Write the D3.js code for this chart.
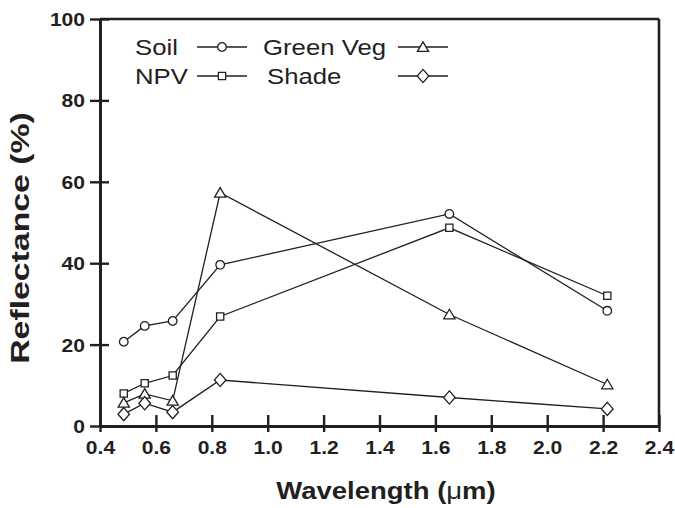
<!DOCTYPE html>
<html>
<head>
<meta charset="utf-8">
<script src="https://cdn.jsdelivr.net/npm/d3@7"></script>
<style>
  body { margin: 0; background: #fff; }
  text { font-family: "Liberation Sans", Arial, Helvetica, sans-serif; fill: #231f20; }
</style>
</head>
<body>
<svg id="chart" width="675" height="508"></svg>
<script>
// Band-centre wavelengths (µm) and reflectance (%) of the four endmembers
const wavelengths = [0.485, 0.56, 0.66, 0.83, 1.65, 2.215];
const soil     = [20.7, 24.6, 25.8, 39.6, 52.1, 28.3];
const npv      = [8.0, 10.5, 12.4, 26.9, 48.7, 32.0];
const greenVeg = [5.7, 7.9, 6.2, 57.3, 27.4, 10.2];
const shade    = [2.9, 5.6, 3.4, 11.3, 7.0, 4.2];

const xTicks = [0.4, 0.6, 0.8, 1.0, 1.2, 1.4, 1.6, 1.8, 2.0, 2.2, 2.4];
const yTicks = [0, 20, 40, 60, 80, 100];

const ink = "#231f20";
const SX = 1.17; // horizontal stretch applied to the lettering

const svg = d3.select("#chart");
const plotLeft = 100, plotRight = 659, plotTop = 19, plotBottom = 426;

const x = d3.scaleLinear().domain([0.4, 2.4]).range([plotLeft, plotRight]);
const y = d3.scaleLinear().domain([0, 100]).range([plotBottom, plotTop]);

// frame (top and right edges)
svg.append("line").attr("x1", plotLeft).attr("x2", plotRight).attr("y1", plotTop).attr("y2", plotTop)
  .attr("stroke", ink).attr("stroke-width", 2.6);
svg.append("line").attr("x1", plotRight).attr("x2", plotRight).attr("y1", plotTop).attr("y2", plotBottom)
  .attr("stroke", ink).attr("stroke-width", 2.6);

// x axis
const gx = svg.append("g").attr("transform", `translate(0,${plotBottom})`)
  .call(d3.axisBottom(x).tickValues(xTicks).tickFormat(d3.format(".1f")).tickSizeOuter(0));
gx.select(".domain").attr("stroke", ink).attr("stroke-width", 3);
gx.selectAll(".tick line").attr("stroke", ink).attr("stroke-width", 2.4).attr("y1", -11).attr("y2", 6);
gx.selectAll(".tick text")
  .attr("y", 0).attr("dy", 0)
  .attr("transform", `translate(0,28) scale(${SX},1)`)
  .style("font-size", "18px").style("font-weight", "bold").attr("fill", ink);

// y axis
const gy = svg.append("g").attr("transform", `translate(${plotLeft},0)`)
  .call(d3.axisLeft(y).tickValues(yTicks).tickFormat(d3.format("d")).tickSizeOuter(0));
gy.select(".domain").attr("stroke", ink).attr("stroke-width", 3);
gy.selectAll(".tick line").attr("stroke", ink).attr("stroke-width", 2.4).attr("x1", -10).attr("x2", 9);
gy.selectAll(".tick text")
  .attr("x", 0).attr("dy", 0)
  .attr("transform", `translate(-15,6.5) scale(${SX},1)`)
  .style("font-size", "18px").style("font-weight", "bold").attr("fill", ink);
gy.selectAll(".tick text").attr("text-anchor", "end");

// axis titles
const xt = svg.append("text")
  .attr("transform", `translate(386,499) scale(${SX},1)`)
  .attr("text-anchor", "middle")
  .style("font-size", "23.5px").style("font-weight", "bold");
xt.append("tspan").text("Wavelength (");
xt.append("tspan").style("font-weight", "normal").text("μ");
xt.append("tspan").text("m)");

svg.append("text")
  .attr("transform", "translate(29,238) rotate(-90) scale(1.3,1)")
  .attr("text-anchor", "middle")
  .style("font-size", "26px").style("font-weight", "bold")
  .text("Reflectance (%)");

// marker shapes
const shapes = {
  circle: () => d3.symbol().type(d3.symbolCircle).size(58)(),
  square: () => d3.symbol().type(d3.symbolSquare).size(52)(),
  triangle: () => "M0,-5.2L5.6,4.3L-5.6,4.3Z",
  diamond: () => "M0,-6.6L5.8,0L0,6.6L-5.8,0Z"
};

const series = [
  { name: "Soil", values: soil, shape: "circle" },
  { name: "NPV", values: npv, shape: "square" },
  { name: "Green Veg", values: greenVeg, shape: "triangle" },
  { name: "Shade", values: shade, shape: "diamond" }
];

const line = d3.line().x((d, i) => x(wavelengths[i])).y(d => y(d));

series.forEach(s => {
  svg.append("path").datum(s.values).attr("d", line)
    .attr("fill", "none").attr("stroke", ink).attr("stroke-width", 1.3);
});
series.forEach(s => {
  svg.append("g").selectAll("path").data(s.values).join("path")
    .attr("transform", (d, i) => `translate(${x(wavelengths[i])},${y(d)})`)
    .attr("d", shapes[s.shape]())
    .attr("fill", "#fff").attr("stroke", ink).attr("stroke-width", 1.3);
});

// legend
const legendItems = [
  { name: "Soil", shape: "circle", tx: 135, base: 55, lx: 197 },
  { name: "NPV", shape: "square", tx: 135, base: 84, lx: 197 },
  { name: "Green Veg", shape: "triangle", tx: 263, base: 55, lx: 398 },
  { name: "Shade", shape: "diamond", tx: 267, base: 84, lx: 398 }
];
legendItems.forEach(it => {
  svg.append("text")
    .attr("transform", `translate(${it.tx},${it.base}) scale(${SX},1)`)
    .style("font-size", "22px").text(it.name);
  const ly = it.base - 8;
  svg.append("line").attr("x1", it.lx).attr("x2", it.lx + 50).attr("y1", ly).attr("y2", ly)
    .attr("stroke", ink).attr("stroke-width", 1.3);
  svg.append("path").attr("transform", `translate(${it.lx + 25},${ly})`)
    .attr("d", shapes[it.shape]())
    .attr("fill", "#fff").attr("stroke", ink).attr("stroke-width", 1.3);
});
</script>
</body>
</html>
